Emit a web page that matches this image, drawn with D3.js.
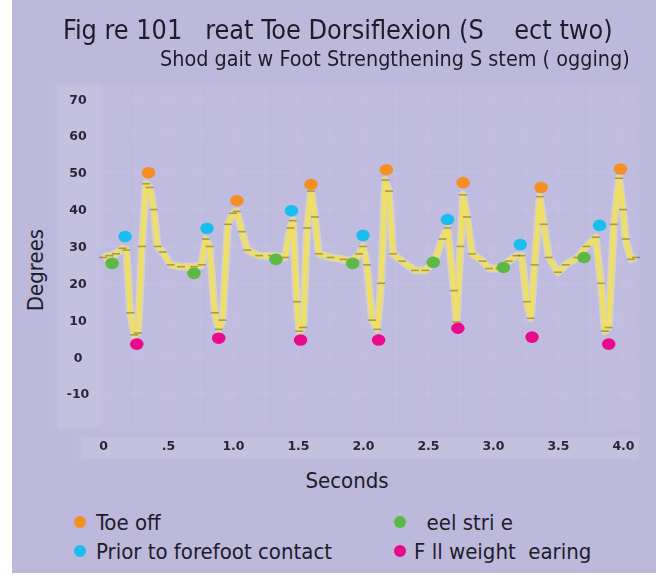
<!DOCTYPE html>
<html>
<head>
<meta charset="utf-8">
<script src="https://cdn.jsdelivr.net/npm/d3@7/dist/d3.min.js"></script>
<style>
  html, body { margin: 0; padding: 0; background: #ffffff; }
  svg text { white-space: pre; }
</style>
</head>
<body>
<svg id="chart" width="656" height="577"></svg>
<script>
// Great toe dorsiflexion trace (degrees over seconds)
const traceTime = [0.00,0.05,0.10,0.15,0.18,0.21,0.24,0.27,0.30,0.33,0.36,0.39,0.42,0.46,0.52,0.60,0.70,0.76,0.79,0.82,0.86,0.89,0.92,0.96,1.00,1.03,1.07,1.11,1.20,1.30,1.40,1.44,1.46,1.49,1.51,1.54,1.57,1.60,1.63,1.66,1.75,1.85,1.92,1.97,2.00,2.03,2.07,2.11,2.14,2.17,2.20,2.23,2.30,2.40,2.48,2.55,2.61,2.65,2.70,2.72,2.75,2.77,2.80,2.84,2.92,2.97,3.05,3.12,3.18,3.22,3.26,3.29,3.32,3.36,3.39,3.43,3.50,3.56,3.65,3.72,3.79,3.83,3.86,3.89,3.93,3.97,4.00,4.02,4.06,4.10];
const traceDeg  = [27,27.5,28,29.5,29,12,6,6.5,30,47,46,40,30,28.5,25,24.5,24.5,25,32,30,12,7.5,10,36,39,39.5,34,29,27.5,27.5,27,35,37,15,7,8,35,45,38,28,27,26.5,26,28,30,25,10,7.5,20,48,45,28,26,23.5,23.5,26,32,35,18,9.5,30,44,38,28,26,24,24,26,27.5,27.5,15,10.5,25,43.5,36,27,23,25,27,30,32.5,20,7,8,36,48.5,40,32,26.5,27];

// Gait events
const toeOffTime = [0.35,1.03,1.60,2.18,2.77,3.37,3.98];
const toeOffDeg  = [50,42.4,46.8,50.8,47.3,46,51];
const priorTime  = [0.17,0.80,1.45,2.00,2.65,3.21,3.82];
const priorDeg   = [32.7,34.9,39.7,33,37.3,30.5,35.7];
const heelTime   = [0.07,0.70,1.33,1.92,2.54,3.08,3.70];
const heelDeg    = [25.4,22.7,26.5,25.4,25.7,24.3,27];
const fullTime   = [0.26,0.89,1.52,2.12,2.73,3.30,3.89];
const fullDeg    = [3.5,5.1,4.6,4.6,7.8,5.4,3.5];

const xTicks = [0,0.5,1,1.5,2,2.5,3,3.5,4];
const xTickLabels = ["0",".5","1.0","1.5","2.0","2.5","3.0","3.5","4.0"];
const yTicks = [70,60,50,40,30,20,10,0,-10];

const titleText = "Fig re 101   reat Toe Dorsiflexion (S    ect two)";
const subtitleText = "Shod gait w Foot Strengthening S stem ( ogging)";
const yTitle = "Degrees";
const xTitle = "Seconds";
const legendItems = [
  {label: "Toe off", color: "#f58f22"},
  {label: "Prior to forefoot contact", color: "#19bdf0"},
  {label: "  eel stri e", color: "#5db946"},
  {label: "F ll weight  earing", color: "#ea0b8c"}
];

const svg = d3.select("#chart");
const W = 656, H = 577;

const x = d3.scaleLinear().domain([0, 4]).range([103, 623]);
const y = d3.scaleLinear().domain([0, 70]).range([357, 99]);

const defs = svg.append("defs");
defs.append("filter").attr("id", "soft").attr("x", "-10%").attr("y", "-10%").attr("width", "120%").attr("height", "120%")
  .append("feGaussianBlur").attr("stdDeviation", 0.7);
defs.append("filter").attr("id", "softer").attr("x", "-10%").attr("y", "-10%").attr("width", "120%").attr("height", "120%")
  .append("feGaussianBlur").attr("stdDeviation", 1.2);

// page background
svg.append("rect").attr("width", W).attr("height", H).attr("fill", "#ffffff");
svg.append("rect").attr("x", 12).attr("y", 0).attr("width", W - 12).attr("height", H - 4).attr("fill", "#bdb9dc");

// plot panel
const px0 = x(-0.02), px1 = x(4.12), py0 = y(74), py1 = y(-19.5);
svg.append("rect").attr("x", px0).attr("y", py0).attr("width", px1 - px0).attr("height", py1 - py0)
  .attr("fill", "#c0bcdf").attr("filter", "url(#softer)");

// tick label strips
svg.append("rect").attr("x", 57).attr("y", py0).attr("width", px0 - 57).attr("height", py1 - py0)
  .attr("fill", "#c3c0e0").attr("filter", "url(#softer)");
svg.append("rect").attr("x", 80).attr("y", 437).attr("width", px1 - 80).attr("height", 22)
  .attr("fill", "#c3c0e0").attr("filter", "url(#softer)");

// faint grid
const grid = svg.append("g").attr("filter", "url(#softer)");
grid.selectAll("line.h").data(yTicks.concat([-20])).join("line")
  .attr("x1", px0).attr("x2", px1).attr("y1", d => y(d)).attr("y2", d => y(d))
  .attr("stroke", "#cdcae8").attr("stroke-width", 1).attr("opacity", 0.5);
grid.selectAll("line.v").data(d3.range(0, 4.01, 0.25)).join("line")
  .attr("y1", py0).attr("y2", py1).attr("x1", d => x(d)).attr("x2", d => x(d))
  .attr("stroke", "#c9c6e6").attr("stroke-width", 1.5).attr("opacity", 0.5);

// axes (labels only, no domain lines)
const yAxis = d3.axisLeft(y).tickValues(yTicks).tickSize(0).tickPadding(0).tickFormat(d => String(d));
const yg = svg.append("g").attr("transform", "translate(90,0)").attr("filter", "url(#soft)").call(yAxis);
yg.select(".domain").remove();
yg.selectAll("text").attr("font-family", "DejaVu Sans").attr("font-weight", "bold")
  .attr("font-size", 12.5).attr("fill", "#2a2838").attr("text-anchor", "middle").attr("dx", -12);

const xAxis = d3.axisBottom(x).tickValues(xTicks).tickSize(0).tickPadding(0)
  .tickFormat((d, i) => xTickLabels[i]);
const xg = svg.append("g").attr("transform", "translate(0,441)").attr("filter", "url(#soft)").call(xAxis);
xg.select(".domain").remove();
xg.selectAll("text").attr("font-family", "DejaVu Sans").attr("font-weight", "bold")
  .attr("font-size", 12.5).attr("fill", "#2a2838");

// trace
const trace = traceTime.map((t, i) => ({t, v: traceDeg[i]}));
const line = d3.line().x(d => x(d.t)).y(d => y(d.v));
const tg = svg.append("g").attr("filter", "url(#soft)");
tg.append("path").datum(trace).attr("d", line).attr("fill", "none")
  .attr("stroke", "#f4eda0").attr("stroke-width", 8).attr("stroke-opacity", 0.45)
  .attr("stroke-linejoin", "round");
tg.append("path").datum(trace).attr("d", line).attr("fill", "none")
  .attr("stroke", "#efdf62").attr("stroke-width", 4.5).attr("stroke-linejoin", "round");
tg.selectAll("rect.mk").data(trace).join("rect")
  .attr("x", d => x(d.t) - 4).attr("y", d => y(d.v) - 0.8).attr("width", 8).attr("height", 1.6)
  .attr("fill", "#6d6242").attr("opacity", 0.55);

// event markers
const events = [
  {t: toeOffTime, v: toeOffDeg, color: legendItems[0].color},
  {t: priorTime, v: priorDeg, color: legendItems[1].color},
  {t: heelTime, v: heelDeg, color: legendItems[2].color},
  {t: fullTime, v: fullDeg, color: legendItems[3].color}
];
events.forEach(ev => {
  svg.append("g").selectAll("ellipse").data(ev.t.map((t, i) => ({t, v: ev.v[i]}))).join("ellipse")
    .attr("cx", d => x(d.t)).attr("cy", d => y(d.v)).attr("rx", 6.8).attr("ry", 5.8)
    .attr("fill", ev.color);
});

// titles: font size chosen so the line spans the wanted width
const font = "'Liberation Sans Narrow', 'DejaVu Sans Condensed', sans-serif";
function fitText(sel, width, maxSize) {
  sel.attr("font-size", maxSize);
  const w = sel.node().getComputedTextLength();
  if (w > width) sel.attr("font-size", (maxSize * width / w).toFixed(2));
  return sel;
}
fitText(svg.append("text").attr("x", 63).attr("y", 39).attr("font-family", font)
  .attr("fill", "#1e1c2a").text(titleText), 550, 29);
fitText(svg.append("text").attr("x", 160).attr("y", 66).attr("font-family", font)
  .attr("fill", "#1e1c2a").text(subtitleText), 470, 21.5);
svg.append("text").attr("transform", "translate(43,270) rotate(-90)").attr("text-anchor", "middle")
  .attr("font-family", font).attr("font-size", 22).attr("fill", "#1e1c2a").text(yTitle);
svg.append("text").attr("x", 347).attr("y", 488).attr("text-anchor", "middle")
  .attr("font-family", font).attr("font-size", 22).attr("fill", "#1e1c2a").text(xTitle);

// legend
const legendPos = [
  {x: 80, y: 522, tx: 96}, {x: 80, y: 551, tx: 96},
  {x: 400, y: 522, tx: 414}, {x: 400, y: 551, tx: 414}
];
const lg = svg.append("g");
legendItems.forEach((it, i) => {
  const p = legendPos[i];
  lg.append("circle").attr("cx", p.x).attr("cy", p.y).attr("r", 6).attr("fill", it.color);
  lg.append("text").attr("x", p.tx).attr("y", p.y + 8).attr("font-family", font).attr("font-size", 22)
    .attr("fill", "#1e1c2a").text(it.label);
});
</script>
</body>
</html>
